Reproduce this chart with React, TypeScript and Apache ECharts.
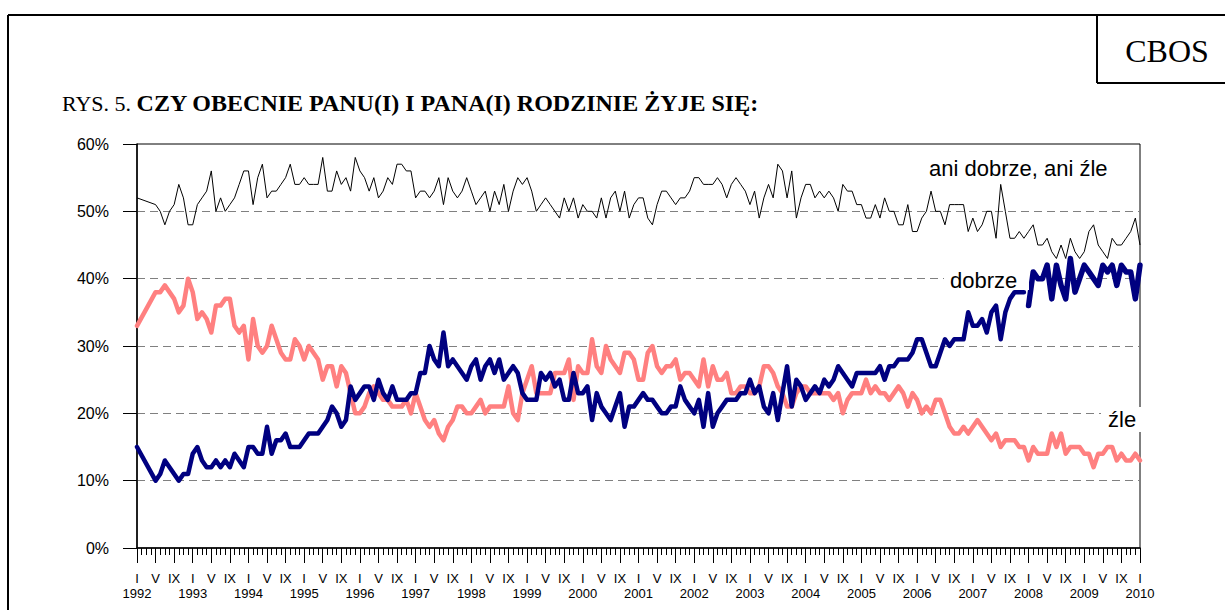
import React, { useEffect, useRef } from "react";
import * as echarts from "echarts";

const years = ["1992","1993","1994","1995","1996","1997","1998","1999","2000","2001","2002","2003","2004","2005","2006","2007","2008","2009","2010"];
const monthMarks = ["I", "", "", "", "V", "", "", "", "IX", "", "", ""];
const yTicks = [0, 10, 20, 30, 40, 50, 60];

// "ani dobrze, ani źle" (monthly, Jan 1992 – Jan 2010)
const ani = [
  52, null, null, null, 51, 50, 48, 50, 51, 54, 52, 48,
  48, 51, 52, 53, 56, 50, 52, 50, 51, 52, 54, 56,
  56, 51, 55, 57, 52, 53, 53, 54, 55, 57, 54, 54,
  55, 54, 54, 54, 58, 53, 53, 56, 54, 55, 53, 58,
  56, 55, 53, 55, 52, 53, 55, 54, 57, 57, 56, 56,
  52, 53, 53, 52, 53, 55, 51, 55, 53, 52, 53, 55,
  53, 51, 52, 53, 50, 53, 51, 54, 50, 53, 55, 54,
  55, 53, 50, 51, 52, 51, 50, 49, 52, 50, 52, 49,
  51, 50, 50, 49, 52, 49, 52, 53, 50, 53, 49, 51,
  52, 52, 49, 48, 51, 53, 53, 52, 51, 52, 52, 53,
  55, 55, 54, 54, 54, 55, 54, 52, 54, 55, 54, 53,
  51, 53, 49, 52, 54, 52, 57, 56, 52, 56, 49, 52,
  54, 54, 52, 53, 52, 53, 52, 50, 54, 53, 53, 51,
  51, 49, 49, 51, 49, 52, 50, 50, 48, 48, 51, 47,
  47, 49, 50, 53, 50, 50, 48, 51, 51, 51, 51, 47,
  49, 47, 48, 50, 50, 46, 54, 50, 46, 46, 47, 46,
  47, 48, 45, 45, 46, 44, 43, 45, 43, 46, 44, 43,
  44, 47, 48, 45, 44, 43, 46, 45, 45, 46, 47, 49,
  45,
];

// "dobrze" Jan 1992 – Dec 2007
const dobrze = [
  15, null, null, null, 10, 11, 13, 12, 11, 10, 11, 11,
  14, 15, 13, 12, 12, 13, 12, 13, 12, 14, 13, 12,
  15, 15, 14, 14, 18, 14, 16, 16, 17, 15, 15, 15,
  16, 17, 17, 17, 18, 19, 21, 20, 18, 19, 24, 22,
  23, 24, 24, 22, 25, 23, 22, 24, 22, 22, 22, 23,
  23, 26, 26, 30, 28, 27, 32, 27, 28, 27, 26, 25,
  27, 28, 25, 27, 28, 26, 28, 25, 26, 27, 26, 23,
  22, 22, 22, 26, 25, 26, 24, 25, 22, 22, 26, 23,
  23, 24, 19, 23, 21, 20, 19, 21, 23, 18, 21, 21,
  22, 23, 22, 22, 21, 20, 20, 21, 21, 24, 22, 21,
  20, 22, 18, 23, 18, 20, 21, 22, 22, 22, 23, 23,
  25, 23, 24, 21, 20, 23, 19, 23, 27, 21, 25, 24,
  22, 23, 24, 23, 25, 24, 25, 27, 26, 25, 24, 26,
  26, 26, 26, 26, 27, 25, 27, 27, 28, 28, 28, 29,
  31, 31, 29, 27, 27, 29, 31, 30, 31, 31, 31, 35,
  33, 33, 34, 32, 35, 36, 31, 35, 37, 38, 38, 38,
];
// "dobrze" Jan 2008 – Jan 2010
const dobrzeLate = [
  36, 41, 40, 40, 42, 37, 42, 39, 37, 43, 38, 40,
  42, 41, 40, 39, 42, 41, 42, 39, 42, 41, 41, 37,
  42,
];

// "źle" Jan 1992 – Jan 2010
const zle = [
  33, null, null, null, 38, 38, 39, 38, 37, 35, 36, 40,
  38, 34, 35, 34, 32, 36, 36, 37, 37, 33, 32, 33,
  28, 34, 30, 29, 30, 33, 31, 29, 28, 28, 31, 30,
  28, 30, 29, 28, 25, 27, 27, 24, 27, 26, 23, 20,
  20, 21, 23, 24, 23, 22, 22, 21, 21, 21, 22, 20,
  23, 21, 19, 18, 19, 17, 16, 18, 19, 21, 21, 20,
  20, 21, 22, 20, 21, 21, 21, 21, 24, 20, 19, 23,
  25, 27, 23, 23, 23, 23, 26, 26, 26, 28, 22, 27,
  26, 26, 31, 27, 26, 30, 28, 27, 26, 29, 29, 28,
  25, 25, 29, 30, 27, 26, 27, 27, 28, 25, 26, 26,
  25, 24, 28, 24, 27, 25, 25, 26, 23, 23, 24, 24,
  23, 23, 24, 27, 27, 26, 24, 23, 21, 21, 23, 24,
  24, 23, 23, 23, 23, 23, 22, 23, 20, 22, 23, 23,
  23, 25, 23, 24, 23, 23, 22, 23, 24, 23, 21, 23,
  22, 20, 21, 20, 22, 22, 20, 18, 17, 17, 18, 17,
  18, 19, 18, 17, 16, 17, 15, 16, 16, 16, 15, 15,
  13, 15, 14, 14, 14, 17, 15, 17, 14, 15, 15, 15,
  14, 14, 12, 14, 14, 15, 15, 13, 14, 13, 13, 14,
  13,
];

const SANS = "'Liberation Sans', Arial, sans-serif";
const SERIF = "'Liberation Serif', 'Times New Roman', serif";

export default function App() {
  const ref = useRef<HTMLDivElement>(null);

  useEffect(() => {
    if (!ref.current) return;
    const chart = echarts.init(ref.current, null, { renderer: "svg" });

    const categories: string[] = [];
    years.forEach((y, yi) => {
      const n = yi === years.length - 1 ? 1 : 12;
      for (let m = 0; m < n; m++) categories.push(y + "-" + m);
    });
    const monthFmt = (v: string) => monthMarks[Number(v.split("-")[1])];
    const yearFmt = (v: string) => v.split("-")[0];
    const dobrzeLateFull = new Array(dobrze.length).fill(null).concat(dobrzeLate);
    const splitColors = yTicks.map((t, i) => (i === 0 || i === yTicks.length - 1 ? "rgba(0,0,0,0)" : "#808080"));

    const labelBase = { fontSize: 13, color: "#000", fontFamily: SANS, showMaxLabel: true, showMinLabel: true, hideOverlap: false };

    chart.setOption({
      animation: false,
      backgroundColor: "#fff",
      grid: { left: 137, right: 85, top: 144, bottom: 62, show: true, borderColor: "#000", borderWidth: 1, backgroundColor: "transparent" },
      xAxis: [
        {
          type: "category", data: categories, boundaryGap: false,
          axisLine: { show: true, lineStyle: { color: "#000", width: 1.5 } },
          axisTick: { show: true, interval: 0, length: 7, lineStyle: { color: "#000", width: 1 } },
          axisLabel: { show: false }, splitLine: { show: false },
        },
        {
          type: "category", data: categories, boundaryGap: false, position: "bottom",
          axisLine: { show: false },
          axisTick: { show: true, interval: (i: number) => i % 4 === 0, length: 15, lineStyle: { color: "#000", width: 1 } },
          axisLabel: { ...labelBase, interval: (i: number) => i % 4 === 0, formatter: monthFmt, margin: 24 },
          splitLine: { show: false },
        },
        {
          type: "category", data: categories, boundaryGap: false, position: "bottom",
          axisLine: { show: false }, axisTick: { show: false },
          axisLabel: { ...labelBase, interval: (i: number) => i % 12 === 0, formatter: yearFmt, margin: 39 },
          splitLine: { show: false },
        },
      ],
      yAxis: {
        type: "value", min: 0, max: 60, interval: 10,
        axisLine: { show: true, lineStyle: { color: "#000", width: 1.5 } },
        axisTick: { show: true, length: 14, lineStyle: { color: "#000" } },
        axisLabel: { formatter: "{value}%", fontSize: 16, color: "#000", margin: 28, fontFamily: SANS },
        splitLine: { show: true, lineStyle: { color: splitColors, type: [8, 5], width: 1 } },
      },
      series: [
        { name: "źle", type: "line", data: zle, connectNulls: true, symbol: "none", z: 2,
          lineStyle: { color: "#FF8080", width: 4.5, join: "round", cap: "round" } },
        { name: "dobrze", type: "line", data: dobrze, connectNulls: true, symbol: "none", z: 3,
          lineStyle: { color: "#000080", width: 4.5, join: "round", cap: "round" } },
        { name: "dobrze2", type: "line", data: dobrzeLateFull, connectNulls: false, symbol: "none", z: 3,
          lineStyle: { color: "#000080", width: 5.5, join: "round", cap: "round" } },
        { name: "ani dobrze, ani źle", type: "line", data: ani, connectNulls: true, symbol: "none", z: 4,
          lineStyle: { color: "#000", width: 1, join: "round" } },
      ],
      graphic: [
        { type: "line", z: 100, shape: { x1: 8, y1: 15, x2: 1225, y2: 15 }, style: { stroke: "#000", lineWidth: 2 } },
        { type: "line", z: 100, shape: { x1: 8, y1: 15, x2: 8, y2: 610 }, style: { stroke: "#000", lineWidth: 2 } },
        { type: "line", z: 100, shape: { x1: 1097, y1: 15, x2: 1097, y2: 83 }, style: { stroke: "#000", lineWidth: 2 } },
        { type: "line", z: 100, shape: { x1: 1097, y1: 83, x2: 1225, y2: 83 }, style: { stroke: "#000", lineWidth: 2 } },
        { type: "text", z: 100, x: 1167, y: 51, style: { text: "CBOS", font: "32px " + SERIF, fill: "#000", textAlign: "center", textVerticalAlign: "middle", align: "center", verticalAlign: "middle" } },
        {
          type: "text", z: 100, x: 62, y: 103,
          style: {
            text: "{n|RYS. 5. }{b|CZY OBECNIE PANU(I) I PANA(I) RODZINIE ŻYJE SIĘ:}",
            textVerticalAlign: "middle", verticalAlign: "middle",
            rich: {
              n: { font: "22px " + SERIF, fill: "#000", color: "#000" },
              b: { font: "bold 24px " + SERIF, fill: "#000", color: "#000" },
            },
          },
        },
        { type: "rect", z: 100, shape: { x: 922, y: 153, width: 200, height: 29 }, style: { fill: "#fff" } },
        { type: "text", z: 101, x: 929, y: 168, style: { text: "ani dobrze, ani źle", font: "22px " + SANS, fill: "#000", textVerticalAlign: "middle", verticalAlign: "middle" } },
        { type: "rect", z: 100, shape: { x: 944, y: 266, width: 85, height: 24 }, style: { fill: "#fff" } },
        { type: "text", z: 101, x: 950, y: 280, style: { text: "dobrze", font: "22px " + SANS, fill: "#000", textVerticalAlign: "middle", verticalAlign: "middle" } },
        { type: "rect", z: 100, shape: { x: 1101, y: 407, width: 45, height: 25 }, style: { fill: "#fff" } },
        { type: "text", z: 101, x: 1108, y: 419, style: { text: "źle", font: "22px " + SANS, fill: "#000", textVerticalAlign: "middle", verticalAlign: "middle" } },
      ],
    });

    return () => chart.dispose();
  }, []);

  return <div ref={ref} style={{ position: "absolute", left: 0, top: 0, width: 1225, height: 610 }} />;
}
